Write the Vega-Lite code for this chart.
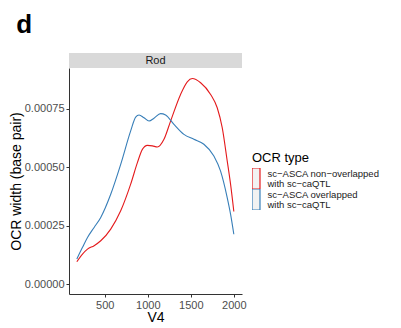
{
  "$schema": "https://vega.github.io/schema/vega-lite/v6.json",
  "background": "white",
  "padding": {"left": 9, "top": 12, "right": 5, "bottom": 5},
  "title": {"text": "d", "anchor": "start", "fontSize": 26, "fontWeight": "bold", "font": "Liberation Sans", "color": "black", "offset": 15, "dx": 7},
  "config": {
    "view": {"stroke": null},
    "font": "Liberation Sans",
    "axis": {"grid": false, "domainColor": "#333333", "tickColor": "#333333", "labelColor": "#4d4d4d", "labelFontSize": 11, "titleFontSize": 14, "titleFontWeight": "normal", "titleColor": "black", "labelFont": "Liberation Sans", "titleFont": "Liberation Sans"}
  },
  "spacing": 0,
  "vconcat": [
    {
      "width": 173,
      "height": 15,
      "data": {"values": [{"strip": "Rod"}]},
      "layer": [
        {"mark": {"type": "rect", "color": "#d9d9d9"}, "encoding": {"x": {"field": "strip", "type": "nominal", "axis": null, "scale": {"paddingInner": 0, "paddingOuter": 0}}}},
        {"mark": {"type": "text", "fontSize": 11, "color": "#1a1a1a", "font": "Liberation Sans", "baseline": "middle"}, "encoding": {"x": {"field": "strip", "type": "nominal", "axis": null}, "text": {"field": "strip"}}}
      ]
    },
    {
      "width": 173,
      "height": 226,
      "data": {"values": [
        {"type": "sc−ASCA non−overlapped with sc−caQTL", "V4": 175, "density": 0.0000953},
        {"type": "sc−ASCA non−overlapped with sc−caQTL", "V4": 241, "density": 0.000128},
        {"type": "sc−ASCA non−overlapped with sc−caQTL", "V4": 299, "density": 0.000149},
        {"type": "sc−ASCA non−overlapped with sc−caQTL", "V4": 376, "density": 0.000164},
        {"type": "sc−ASCA non−overlapped with sc−caQTL", "V4": 453, "density": 0.000185},
        {"type": "sc−ASCA non−overlapped with sc−caQTL", "V4": 569, "density": 0.000235},
        {"type": "sc−ASCA non−overlapped with sc−caQTL", "V4": 685, "density": 0.000313},
        {"type": "sc−ASCA non−overlapped with sc−caQTL", "V4": 801, "density": 0.000427},
        {"type": "sc−ASCA non−overlapped with sc−caQTL", "V4": 879, "density": 0.000519},
        {"type": "sc−ASCA non−overlapped with sc−caQTL", "V4": 937, "density": 0.000576},
        {"type": "sc−ASCA non−overlapped with sc−caQTL", "V4": 995, "density": 0.000593},
        {"type": "sc−ASCA non−overlapped with sc−caQTL", "V4": 1053, "density": 0.000591},
        {"type": "sc−ASCA non−overlapped with sc−caQTL", "V4": 1111, "density": 0.000586},
        {"type": "sc−ASCA non−overlapped with sc−caQTL", "V4": 1188, "density": 0.000619},
        {"type": "sc−ASCA non−overlapped with sc−caQTL", "V4": 1265, "density": 0.000697},
        {"type": "sc−ASCA non−overlapped with sc−caQTL", "V4": 1381, "density": 0.000811},
        {"type": "sc−ASCA non−overlapped with sc−caQTL", "V4": 1459, "density": 0.000865},
        {"type": "sc−ASCA non−overlapped with sc−caQTL", "V4": 1517, "density": 0.000879},
        {"type": "sc−ASCA non−overlapped with sc−caQTL", "V4": 1614, "density": 0.000861},
        {"type": "sc−ASCA non−overlapped with sc−caQTL", "V4": 1730, "density": 0.000811},
        {"type": "sc−ASCA non−overlapped with sc−caQTL", "V4": 1807, "density": 0.000754},
        {"type": "sc−ASCA non−overlapped with sc−caQTL", "V4": 1865, "density": 0.000669},
        {"type": "sc−ASCA non−overlapped with sc−caQTL", "V4": 1923, "density": 0.000527},
        {"type": "sc−ASCA non−overlapped with sc−caQTL", "V4": 1962, "density": 0.000427},
        {"type": "sc−ASCA non−overlapped with sc−caQTL", "V4": 2000, "density": 0.00031},
        {"type": "sc−ASCA overlapped with sc−caQTL", "V4": 175, "density": 0.000107},
        {"type": "sc−ASCA overlapped with sc−caQTL", "V4": 241, "density": 0.000157},
        {"type": "sc−ASCA overlapped with sc−caQTL", "V4": 299, "density": 0.000199},
        {"type": "sc−ASCA overlapped with sc−caQTL", "V4": 376, "density": 0.000242},
        {"type": "sc−ASCA overlapped with sc−caQTL", "V4": 453, "density": 0.000285},
        {"type": "sc−ASCA overlapped with sc−caQTL", "V4": 569, "density": 0.000384},
        {"type": "sc−ASCA overlapped with sc−caQTL", "V4": 685, "density": 0.000512},
        {"type": "sc−ASCA overlapped with sc−caQTL", "V4": 801, "density": 0.000655},
        {"type": "sc−ASCA overlapped with sc−caQTL", "V4": 859, "density": 0.000714},
        {"type": "sc−ASCA overlapped with sc−caQTL", "V4": 898, "density": 0.000723},
        {"type": "sc−ASCA overlapped with sc−caQTL", "V4": 956, "density": 0.000711},
        {"type": "sc−ASCA overlapped with sc−caQTL", "V4": 1014, "density": 0.000697},
        {"type": "sc−ASCA overlapped with sc−caQTL", "V4": 1072, "density": 0.000709},
        {"type": "sc−ASCA overlapped with sc−caQTL", "V4": 1149, "density": 0.000729},
        {"type": "sc−ASCA overlapped with sc−caQTL", "V4": 1207, "density": 0.000723},
        {"type": "sc−ASCA overlapped with sc−caQTL", "V4": 1304, "density": 0.000683},
        {"type": "sc−ASCA overlapped with sc−caQTL", "V4": 1420, "density": 0.00064},
        {"type": "sc−ASCA overlapped with sc−caQTL", "V4": 1536, "density": 0.000619},
        {"type": "sc−ASCA overlapped with sc−caQTL", "V4": 1652, "density": 0.000598},
        {"type": "sc−ASCA overlapped with sc−caQTL", "V4": 1768, "density": 0.000548},
        {"type": "sc−ASCA overlapped with sc−caQTL", "V4": 1845, "density": 0.000484},
        {"type": "sc−ASCA overlapped with sc−caQTL", "V4": 1923, "density": 0.00037},
        {"type": "sc−ASCA overlapped with sc−caQTL", "V4": 1962, "density": 0.000299},
        {"type": "sc−ASCA overlapped with sc−caQTL", "V4": 2000, "density": 0.000213}
      ]},
      "mark": {"type": "line", "interpolate": "monotone", "strokeWidth": 1.1},
      "encoding": {
        "x": {"field": "V4", "type": "quantitative", "title": "V4", "scale": {"domain": [84, 2095], "nice": false, "zero": false}, "axis": {"values": [500, 1000, 1500, 2000], "tickSize": 3, "labelPadding": 2, "titlePadding": 0, "format": "d"}},
        "y": {"field": "density", "type": "quantitative", "title": "OCR width (base pair)", "scale": {"domain": [-0.0000427, 0.000924], "nice": false, "zero": false}, "axis": {"values": [0, 0.00025, 0.0005, 0.00075], "format": ".5f", "tickSize": 3, "labelPadding": 2, "titlePadding": 1}},
        "color": {"field": "type", "type": "nominal", "scale": {"domain": ["sc−ASCA non−overlapped with sc−caQTL", "sc−ASCA overlapped with sc−caQTL"], "range": ["#e41a1c", "#377eb8"]},
          "legend": {"title": "OCR type", "orient": "none", "legendX": 183, "legendY": 99, "titleFontSize": 13, "titleFontWeight": "normal", "titleColor": "black", "titlePadding": 3, "labelFontSize": 9.5, "labelColor": "#1a1a1a", "labelBaseline": "top", "symbolType": "M-0.38,-1L0.38,-1L0.38,1L-0.38,1Z", "symbolSize": 441, "symbolFillColor": "#f2f2f2", "symbolStrokeWidth": 1.2, "symbolOffset": -7.5, "rowPadding": 0, "clipHeight": 21, "labelOffset": 0, "labelLimit": 300,
            "encode": {"labels": {"update": {"lineHeight": {"value": 10.5}, "y": {"value": 0.5}}}},
            "labelExpr": "[substring(datum.label, 0, indexof(datum.label, ' with')), substring(datum.label, indexof(datum.label, ' with') + 1)]"}}
      }
    }
  ]
}
